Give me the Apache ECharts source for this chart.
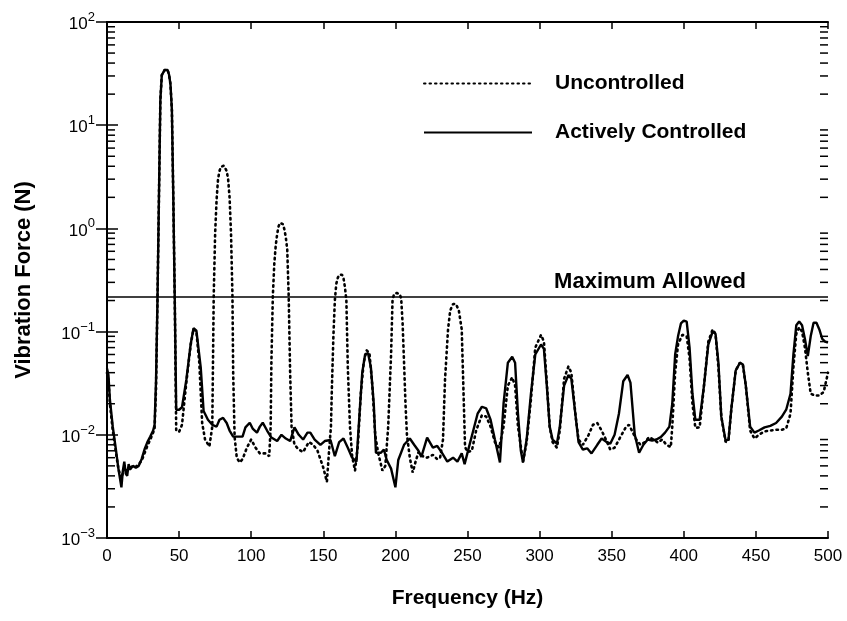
<!DOCTYPE html>
<html>
<head>
<meta charset="utf-8">
<script src="https://cdn.jsdelivr.net/npm/echarts@6/dist/echarts.min.js"></script>
<style>
  html, body { margin: 0; padding: 0; background: #fff; }
  #chart { width: 847px; height: 621px; }
</style>
</head>
<body>
<div id="chart"></div>
<script>
// Frequency (Hz) / force (N) samples of the actively controlled response
const controlledFreq = [0,1,2,4,6,8,10,11,12,13,14,15,16,18,20,22,24,26,28,30,32,33,34,35,36,37,38,40,42,43,44,45,46,47,48,50,52,55,58,60,62,65,67,68,70,73,76,78,80.5,83,85,87.5,91,94,96,99,101,104,106,108,111,114,118,121,124,127,130,133,136,139,141,144,148,151,155,158,161,164,167,170,173,175,177,179,181,183,185,186.5,190,192,194,197,200,202,206,210,213,216,218,222,226,229,232,236,240,243,246,248,251,254,257,260,263,266,269,272.5,275,278,281,283,285,287,288.5,291,294,297,301,303,305,307,309,312,314,317,320,322,325,327,330,333,336,340,343,346,349,352,355,358,361,363,366,369,372,375,378,381,384,387,390,392,394,396,398,400,402,404,406,408,411,414,417,420,422,424,426,429,431,433,436,439,441,443,446,449,452,456,460,464,468,471,474,476,478,480,482,484,486,488,490,492,494,496,498,500];
const controlledForce = [0.044,0.038,0.022,0.012,0.0075,0.0046,0.0031,0.0045,0.0055,0.0042,0.0040,0.0052,0.0046,0.0050,0.0048,0.0050,0.0058,0.0072,0.0085,0.0096,0.011,0.0125,0.034,0.20,1.9,17.5,30.6,34.3,34.3,31,25,14.0,1.9,0.20,0.0175,0.0175,0.0185,0.034,0.075,0.108,0.102,0.045,0.017,0.0163,0.014,0.0125,0.0120,0.0140,0.0146,0.013,0.011,0.0096,0.0096,0.0096,0.0118,0.0131,0.0115,0.0105,0.0120,0.0131,0.011,0.0094,0.0087,0.0100,0.0092,0.0087,0.0118,0.0100,0.0090,0.0105,0.0105,0.0090,0.0080,0.0087,0.0089,0.0062,0.0085,0.0092,0.0075,0.0060,0.0055,0.0150,0.040,0.060,0.062,0.045,0.020,0.0067,0.0067,0.0072,0.0057,0.0047,0.0031,0.0057,0.0080,0.0092,0.0080,0.0070,0.0061,0.0094,0.0075,0.0078,0.0068,0.0055,0.0060,0.0055,0.0066,0.0052,0.0076,0.0110,0.0160,0.0187,0.0180,0.0140,0.0090,0.0054,0.020,0.050,0.057,0.050,0.016,0.0070,0.0054,0.0090,0.025,0.060,0.075,0.068,0.030,0.012,0.0090,0.0082,0.012,0.030,0.038,0.035,0.015,0.0085,0.0072,0.0074,0.0066,0.0080,0.0092,0.0086,0.0082,0.0100,0.016,0.033,0.038,0.032,0.010,0.0067,0.0080,0.0090,0.0088,0.0090,0.0095,0.0105,0.012,0.020,0.060,0.090,0.120,0.128,0.125,0.070,0.025,0.0140,0.0140,0.030,0.075,0.100,0.095,0.050,0.015,0.0088,0.0090,0.018,0.042,0.050,0.048,0.030,0.012,0.0105,0.0110,0.0118,0.0122,0.0130,0.0150,0.0175,0.025,0.060,0.115,0.125,0.115,0.085,0.058,0.090,0.122,0.122,0.105,0.085,0.080,0.078];

// Frequency (Hz) / force (N) samples of the uncontrolled response
const uncontrolledFreq = [0,1,2,4,6,8,10,12,14,16,18,20,22,24,26,28,30,32,33,34,35,36,37,38,40,42,43,44,45,46,47,48,50,52,55,58,60,62,64,66,68,71,73,73.5,74,75,76,77,78,79,80,81,82,83,84,85,86,87,87.5,88.5,90,92,94,97,100,103,106,110,112.5,113.5,114,115,116,117,118,119,120,121,122,123,124,125,126,127,128,130,133,136,140,143,146,150,152.5,154,155.3,156,157,158,159,160,161,162,163,164,165,166,167,168.5,170,172,174,176,178,180,182,184,186,188,191,193,195,197,198,199,200,201,202,203,204,205,206,207,208,210,212,214,216,219,222,226,229,231,233,234.4,236.5,238,240,241,242,244,246,247,248.3,250,253,256,260,263,266,269,272,275,278,281,283,285,288.5,291,294,297,301,303,305,307,309,312,314,317,320,322,325,327,330,334,337,340,343,346,349,352,356,360,362,364,367,370,373,376,379,382,385,388,391,392,394,396,399,402,404,406,408,411,414,417,420,422,424,426,429,431,433,436,439,441,443,446,449,452,456,460,464,468,471,474,476,478,480,482,484,486,488,491,494,497,500];
const uncontrolledForce = [0.040,0.034,0.020,0.011,0.0070,0.0046,0.0038,0.0048,0.0045,0.0048,0.0050,0.0049,0.0052,0.0056,0.0066,0.0078,0.0090,0.0105,0.0115,0.028,0.20,1.9,17.5,30.6,34.3,34.3,31,25,14.0,1.9,0.20,0.0110,0.0107,0.0125,0.032,0.074,0.106,0.100,0.050,0.013,0.0090,0.0077,0.012,0.05,0.22,0.9,1.9,3.0,3.6,3.95,4.05,4.05,3.95,3.6,3.0,2.0,0.9,0.22,0.04,0.0095,0.0060,0.0054,0.0058,0.0075,0.0090,0.0075,0.0066,0.0066,0.0062,0.012,0.05,0.22,0.45,0.68,0.88,1.05,1.13,1.15,1.10,0.98,0.82,0.62,0.22,0.04,0.012,0.0080,0.0072,0.0068,0.0085,0.0080,0.0070,0.0048,0.0035,0.0070,0.012,0.030,0.090,0.20,0.29,0.33,0.355,0.36,0.355,0.33,0.27,0.20,0.045,0.012,0.0062,0.0045,0.0080,0.025,0.050,0.066,0.062,0.030,0.010,0.0067,0.0045,0.0050,0.012,0.060,0.20,0.23,0.237,0.237,0.235,0.23,0.21,0.12,0.05,0.020,0.0100,0.0060,0.0043,0.0055,0.0068,0.0062,0.0060,0.0064,0.0058,0.0060,0.0090,0.034,0.105,0.160,0.185,0.190,0.185,0.160,0.105,0.034,0.0076,0.0068,0.0070,0.0110,0.0155,0.0150,0.0120,0.0085,0.0075,0.012,0.030,0.036,0.030,0.012,0.0055,0.0085,0.022,0.070,0.093,0.080,0.032,0.012,0.0085,0.0075,0.011,0.035,0.046,0.040,0.015,0.0090,0.0080,0.0100,0.0125,0.0130,0.0110,0.0090,0.0072,0.0075,0.0095,0.0120,0.0125,0.0110,0.0090,0.0080,0.0085,0.0095,0.0090,0.0084,0.0090,0.0080,0.0076,0.012,0.040,0.075,0.093,0.090,0.055,0.020,0.0117,0.0118,0.030,0.080,0.105,0.095,0.045,0.015,0.0085,0.0088,0.018,0.042,0.050,0.047,0.030,0.011,0.0092,0.0100,0.0108,0.0110,0.0112,0.0112,0.0115,0.016,0.045,0.095,0.110,0.100,0.070,0.040,0.025,0.024,0.024,0.026,0.040];

// Force limit (N)
const maxAllowed = 0.22;

// Axis ranges and tick labels
const freqTicks = [0, 50, 100, 150, 200, 250, 300, 350, 400, 450, 500];
const forceDecades = [-3, -2, -1, 0, 1, 2];
const minorMultipliers = [2, 3, 4, 5, 6, 7, 8, 9];

const FONT = '"Liberation Sans", Arial, Helvetica, sans-serif';

const pairs = (xs, ys) => xs.map((x, i) => [x, ys[i]]);

// log-axis minor tick values (2..9 within each decade)
const minorTickValues = [];
forceDecades.slice(0, -1).forEach(d => {
  minorMultipliers.forEach(m => minorTickValues.push([0, m * Math.pow(10, d)]));
});

const expText = e => (e < 0 ? '\u2212' + (-e) : String(e));

const chart = echarts.init(document.getElementById('chart'), null, { renderer: 'canvas' });

const axisLineStyle = { color: '#000', width: 2 };

chart.setOption({
  animation: false,
  backgroundColor: '#fff',
  grid: { left: 107, right: 19, top: 22, bottom: 83, containLabel: false },
  legend: {
    data: ['Uncontrolled', 'Actively Controlled'],
    orient: 'vertical',
    left: 418,
    top: 68,
    itemWidth: 108,
    itemHeight: 14,
    itemGap: 28,
    itemStyle: { opacity: 0, borderWidth: 0 },
    textStyle: { fontFamily: FONT, fontSize: 21, fontWeight: 'bold', color: '#000', padding: [0, 0, 0, 18] },
    inactiveColor: '#000'
  },
  xAxis: [{
    type: 'value',
    min: freqTicks[0],
    max: freqTicks[freqTicks.length - 1],
    interval: 50,
    position: 'bottom',
    name: 'Frequency (Hz)',
    nameLocation: 'middle',
    nameGap: 50,
    nameTextStyle: { fontFamily: FONT, fontSize: 21, fontWeight: 'bold', color: '#000' },
    axisLine: { lineStyle: axisLineStyle },
    axisTick: { inside: true, length: 7, lineStyle: { color: '#000', width: 1.5 } },
    axisLabel: { fontFamily: FONT, fontSize: 17, color: '#000', margin: 10 },
    splitLine: { show: false }
  }, {
    type: 'value',
    min: freqTicks[0],
    max: freqTicks[freqTicks.length - 1],
    interval: 50,
    position: 'top',
    axisLine: { lineStyle: axisLineStyle },
    axisTick: { inside: true, length: 7, lineStyle: { color: '#000', width: 1.5 } },
    axisLabel: { show: false },
    splitLine: { show: false }
  }],
  yAxis: [{
    type: 'log',
    logBase: 10,
    min: Math.pow(10, forceDecades[0]),
    max: Math.pow(10, forceDecades[forceDecades.length - 1]),
    position: 'left',
    name: 'Vibration Force (N)',
    nameLocation: 'middle',
    nameGap: 72,
    nameRotate: 90,
    nameTextStyle: { fontFamily: FONT, fontSize: 22, fontWeight: 'bold', color: '#000' },
    axisLine: { lineStyle: axisLineStyle },
    axisTick: { inside: true, length: 11, lineStyle: { color: '#000', width: 1.5 } },
    axisLabel: {
      margin: 12,
      formatter: v => '{b|10}{s|' + expText(Math.round(Math.log10(v))) + '}',
      rich: {
        b: { fontFamily: FONT, fontSize: 17, color: '#000', lineHeight: 22, verticalAlign: 'bottom' },
        s: { fontFamily: FONT, fontSize: 13, color: '#000', lineHeight: 22, verticalAlign: 'top', padding: [0, 0, 6, 0] }
      }
    },
    splitLine: { show: false }
  }, {
    type: 'log',
    logBase: 10,
    min: Math.pow(10, forceDecades[0]),
    max: Math.pow(10, forceDecades[forceDecades.length - 1]),
    position: 'right',
    axisLine: { lineStyle: axisLineStyle },
    axisTick: { inside: true, length: 11, lineStyle: { color: '#000', width: 1.5 } },
    axisLabel: { show: false },
    splitLine: { show: false }
  }],
  series: [{
    name: 'Uncontrolled',
    type: 'line',
    data: pairs(uncontrolledFreq, uncontrolledForce),
    showSymbol: false,
    symbol: 'none',
    lineStyle: { color: '#000', width: 2.6, type: [1.5, 4], cap: 'round' },
    itemStyle: { color: '#000' },
    z: 2
  }, {
    name: 'Actively Controlled',
    type: 'line',
    data: pairs(controlledFreq, controlledForce),
    showSymbol: false,
    symbol: 'none',
    lineStyle: { color: '#000', width: 2.4, type: 'solid' },
    itemStyle: { color: '#000' },
    z: 3,
    markLine: {
      silent: true,
      symbol: 'none',
      lineStyle: { color: '#000', width: 1.6, type: 'solid' },
      label: {
        show: true,
        position: 'insideEndTop',
        formatter: 'Maximum Allowed',
        fontFamily: FONT,
        fontSize: 22,
        fontWeight: 'bold',
        color: '#000',
        padding: [0, 79, 0, 0],
        distance: 3
      },
      data: [{ yAxis: maxAllowed }]
    }
  }, {
    // minor ticks on the left and right log axes
    name: 'minorTicks',
    type: 'custom',
    silent: true,
    clip: false,
    data: minorTickValues,
    renderItem: (params, api) => {
      const v = api.value(1);
      const a = api.coord([freqTicks[0], v]);
      const b = api.coord([freqTicks[freqTicks.length - 1], v]);
      const style = { stroke: '#000', lineWidth: 1.5 };
      return {
        type: 'group',
        children: [
          { type: 'line', shape: { x1: a[0], y1: a[1], x2: a[0] + 8, y2: a[1] }, style },
          { type: 'line', shape: { x1: b[0], y1: b[1], x2: b[0] - 8, y2: b[1] }, style }
        ]
      };
    },
    z: 4
  }]
});
</script>
</body>
</html>
